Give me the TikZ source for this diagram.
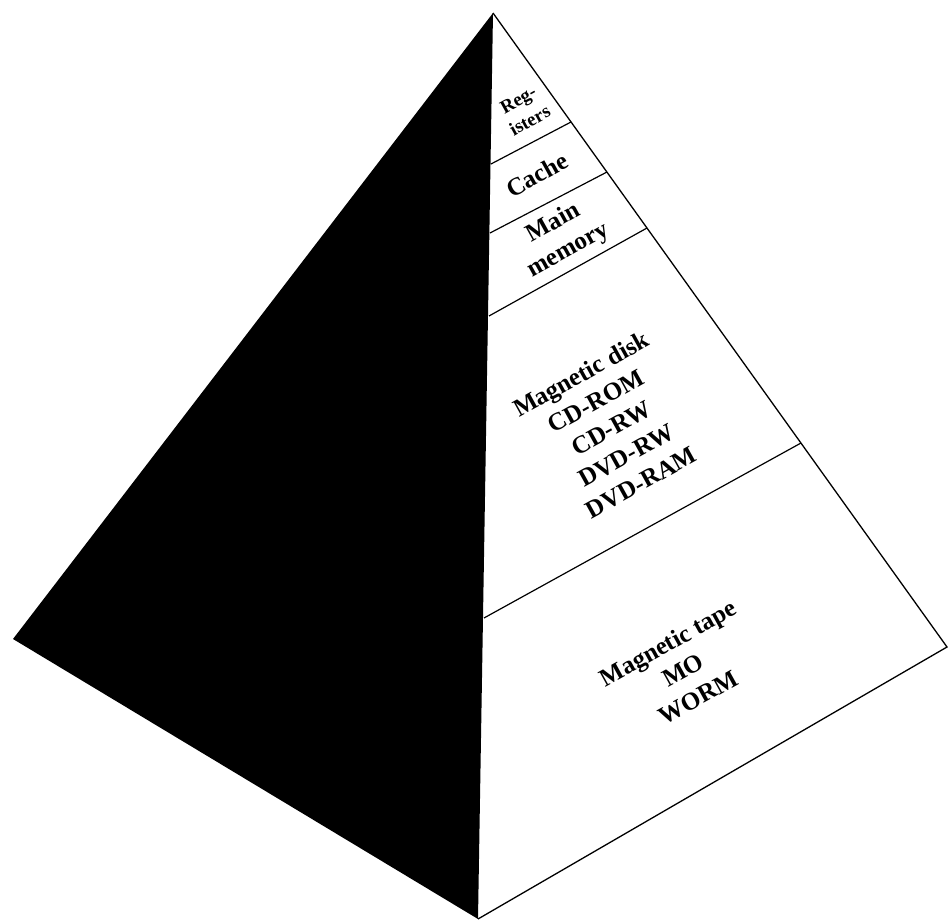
\documentclass[tikz,border=0pt]{standalone}
\usepackage{fontspec}
\setmainfont{Liberation Serif}
\begin{document}
\begin{tikzpicture}[x=1pt,y=-1pt,
  edge/.style={line width=1.3pt,line join=miter},
  divider/.style={line width=1.2pt},
  lbl/.style={rotate=29,align=center,inner sep=0pt,font=\fontsize{25}{31}\selectfont\bfseries},
  smalllbl/.style={rotate=29,align=center,inner sep=0pt,font=\fontsize{19}{24}\selectfont\bfseries}]
\useasboundingbox (0,0) rectangle (948,920);
% corners
\coordinate (apex) at (493,13);
\coordinate (left) at (13,639);
\coordinate (bottom) at (478,919);
\coordinate (right) at (947,647);
% dark face
\fill[black] (apex) -- (left) -- (bottom) -- cycle;
% light face
\draw[edge] (bottom) -- (right) -- (apex);
% dividers
\coordinate (c1) at (491,164); \coordinate (r1) at (571,122);
\coordinate (c2) at (490,233); \coordinate (r2) at (607,172);
\coordinate (c3) at (489,316); \coordinate (r3) at (647,228);
\coordinate (c4) at (484,618); \coordinate (r4) at (801,443);
\draw[divider] (c1) -- (r1);
\draw[divider] (c2) -- (r2);
\draw[divider] (c3) -- (r3);
\draw[divider] (c4) -- (r4);
% labels
\node[smalllbl] (reg) at (524,110) {Reg-\\isters};
\node[lbl] (cache) at (537,175) {Cache};
\node[lbl] (mainmem) at (561,237) {Main\\memory};
\node[lbl] (disk) at (611,428) {Magnetic disk\\CD-ROM\\CD-RW\\DVD-RW\\DVD-RAM};
\node[lbl] (tape) at (683,670) {Magnetic tape\\MO\\WORM};
\end{tikzpicture}
\end{document}
